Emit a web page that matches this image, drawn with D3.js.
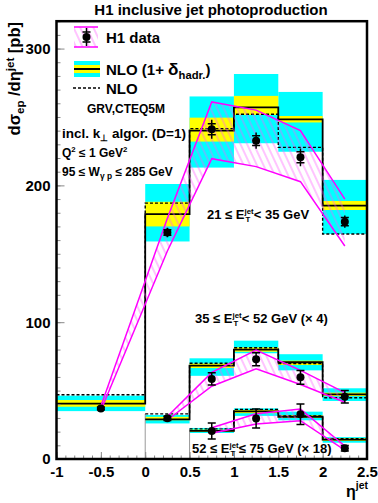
<!DOCTYPE html>
<html><head><meta charset="utf-8">
<script src="https://cdn.jsdelivr.net/npm/d3@7"></script>
<style>
body{margin:0;background:#fff}
text{font-family:"Liberation Sans",Arial,Helvetica,sans-serif;font-weight:bold;fill:#000}
</style>
</head><body>
<svg id="c" width="378" height="503"></svg>
<script>
// ---------- DATA ----------
// 21 <= ET < 35 GeV
const s1Edges   = [-1, 0, 0.5, 1, 1.5, 2, 2.5];
const s1Nlo     = [40.5, 179, 240, 257, 248.3, 185.2];   // NLO (1+delta_hadr)
const s1NloBare = [47, 187, 241.5, 252, 227.8, 164.5];   // NLO
const s1CyanLo  = [35, 159, 213, 230.8, 224.6, 164.5];
const s1CyanHi  = [46.3, 201, 265, 281.4, 268.3, 204];
const s1YelLo   = [38.2, 170, 232, 251.5, 246, 182];
const s1YelHi   = [43.1, 188, 249.5, 265.4, 250.7, 188.6];
const s1Eta     = [-0.5, 0.25, 0.75, 1.25, 1.75, 2.25];
const s1Val     = [37, 165.5, 241, 232.7, 220.5, 173.5];
const s1Stat    = [1, 2, 4, 3.5, 4, 3];
const s1Tot     = [1.5, 3.5, 7, 6, 6.5, 4.5];
const s1BandHi  = [38.5, 176, 261, 255, 240, 190];
const s1BandLo  = [35.5, 152, 219.5, 213.7, 202.7, 155.7];

// 35 <= ET < 52 GeV (x4)
const s2Edges   = [0, 0.5, 1, 1.5, 2, 2.5];
const s2Nlo     = [29, 68.3, 80, 70.7, 47.3];
const s2NloBare = [33, 70, 81.3, 69.7, 44.8];
const s2CyanLo  = [26, 60.8, 77.3, 64.8, 42.4];
const s2CyanHi  = [32.2, 73.6, 86.5, 76.6, 51.7];
const s2YelLo   = [28.3, 66.5, 78.4, 68.7, 46];
const s2YelHi   = [30.8, 69.8, 81.6, 71.9, 48.5];
const s2Eta     = [0.25, 0.75, 1.25, 1.75, 2.25];
const s2Val     = [29.7, 58.5, 72.9, 59.7, 45.5];
const s2Stat    = [1.5, 4.5, 4.8, 5, 4.6];
const s2Tot     = [1.5, 4.5, 4.8, 5, 4.6];
const s2BandHi  = [31, 63.3, 79.7, 64.8, 48.5];
const s2BandLo  = [28.5, 53.2, 66, 54.4, 41.5];

// 52 <= ET <= 75 GeV (x18)
const s3Edges   = [0.5, 1, 1.5, 2, 2.5];
const s3Nlo     = [20.5, 34.8, 30.9, 14.2];
const s3NloBare = [22, 36.3, 31.4, 14.8];
const s3CyanLo  = [19, 31.5, 28.3, 11.9];
const s3CyanHi  = [22.7, 37, 34.6, 16];
const s3YelLo   = [19.8, 33.5, 30, 13.2];
const s3YelHi   = [21.5, 35.8, 32, 15.2];
const s3Eta     = [0.75, 1.25, 1.75, 2.25];
const s3Val     = [20.5, 29.6, 32.7, 7.8];
const s3Stat    = [5.8, 7, 7.5, 2];
const s3Tot     = [5.8, 7, 7.5, 2];
const s3BandHi  = [22.9, 33, 36.5, 9.5];
const s3BandLo  = [18.8, 25.5, 28, 6.5];

const xMajorTicks = [-1, -0.5, 0, 0.5, 1, 1.5, 2, 2.5];
const xTickLabels = ["-1", "-0.5", "0", "0.5", "1", "1.5", "2", "2.5"];
const yMajorTicks = [0, 100, 200, 300];

// ---------- SETUP ----------
const svg = d3.select("#c");
const X0 = 56.5, X1 = 367, Y0 = 459, Y1 = 21.2;
const x = d3.scaleLinear().domain([-1, 2.5]).range([X0, X1]);
const y = d3.scaleLinear().domain([0, 320]).range([Y0, Y1]);

const MAG = "#ff00ff", CYAN = "#00ffff", YEL = "#ffff00";

const defs = svg.append("defs");
const pat = defs.append("pattern").attr("id", "hatch").attr("patternUnits", "userSpaceOnUse")
  .attr("width", 6).attr("height", 10).attr("patternTransform", "rotate(-25)");
pat.append("line").attr("x1", 1).attr("y1", 0).attr("x2", 1).attr("y2", 10)
  .attr("stroke", "#ff55ff").attr("stroke-width", 0.7);
defs.append("clipPath").attr("id", "frameClip").append("rect")
  .attr("x", X0).attr("y", Y1).attr("width", X1 - X0).attr("height", Y0 - Y1);

const plot = svg.append("g").attr("clip-path", "url(#frameClip)");

function drawNLO(edges, nlo, bare, cLo, cHi, yLo, yHi) {
  const bins = nlo.map((v, i) => i);
  plot.append("g").selectAll("rect").data(bins).join("rect")
    .attr("x", i => x(edges[i])).attr("width", i => x(edges[i + 1]) - x(edges[i]))
    .attr("y", i => y(cHi[i])).attr("height", i => y(cLo[i]) - y(cHi[i]))
    .attr("fill", CYAN);
  plot.append("g").selectAll("rect").data(bins).join("rect")
    .attr("x", i => x(edges[i])).attr("width", i => x(edges[i + 1]) - x(edges[i]))
    .attr("y", i => y(yHi[i])).attr("height", i => y(yLo[i]) - y(yHi[i]))
    .attr("fill", YEL);
  if (edges[0] > -1) {
    plot.append("line").attr("x1", x(edges[0])).attr("x2", x(edges[0]))
      .attr("y1", y(0)).attr("y2", y(Math.max(nlo[0], bare[0])))
      .attr("stroke", "#999").attr("stroke-width", 1);
  }
  const step = d3.line().x(d => x(d[0])).y(d => y(d[1])).curve(d3.curveStepAfter);
  const pts = v => v.map((val, i) => [edges[i], val]).concat([[edges[edges.length - 1], v[v.length - 1]]]);
  plot.append("path").attr("d", step(pts(bare))).attr("fill", "none")
    .attr("stroke", "#000").attr("stroke-width", 1.4).attr("stroke-dasharray", "3,2");
  plot.append("path").attr("d", step(pts(nlo))).attr("fill", "none")
    .attr("stroke", "#000").attr("stroke-width", 1.8);
}

function drawBand(eta, hi, lo) {
  const area = d3.area().x((d, i) => x(eta[i])).y0((d, i) => y(lo[i])).y1((d, i) => y(hi[i]));
  plot.append("path").attr("d", area(eta)).attr("fill", "url(#hatch)");
  const ln = d3.line().x((d, i) => x(eta[i]));
  plot.append("path").attr("d", ln.y((d, i) => y(hi[i]))(eta)).attr("fill", "none").attr("stroke", MAG).attr("stroke-width", 1.5);
  plot.append("path").attr("d", ln.y((d, i) => y(lo[i]))(eta)).attr("fill", "none").attr("stroke", MAG).attr("stroke-width", 1.5);
}

function drawPoints(eta, val, stat, tot) {
  const g = plot.append("g");
  eta.forEach((e, i) => {
    const cx = x(e);
    g.append("line").attr("x1", cx).attr("x2", cx).attr("y1", y(val[i] - tot[i])).attr("y2", y(val[i] + tot[i]))
      .attr("stroke", "#000").attr("stroke-width", 1.5);
    [val[i] - stat[i], val[i] + stat[i]].forEach(v => {
      g.append("line").attr("x1", cx - 4).attr("x2", cx + 4).attr("y1", y(v)).attr("y2", y(v))
        .attr("stroke", "#000").attr("stroke-width", 1.5);
    });
    g.append("circle").attr("cx", cx).attr("cy", y(val[i])).attr("r", 4).attr("fill", "#000");
  });
}

drawNLO(s1Edges, s1Nlo, s1NloBare, s1CyanLo, s1CyanHi, s1YelLo, s1YelHi);
drawNLO(s2Edges, s2Nlo, s2NloBare, s2CyanLo, s2CyanHi, s2YelLo, s2YelHi);
drawNLO(s3Edges, s3Nlo, s3NloBare, s3CyanLo, s3CyanHi, s3YelLo, s3YelHi);
drawBand(s1Eta, s1BandHi, s1BandLo);
drawBand(s2Eta, s2BandHi, s2BandLo);
drawBand(s3Eta, s3BandHi, s3BandLo);
drawPoints(s1Eta, s1Val, s1Stat, s1Tot);
drawPoints(s2Eta, s2Val, s2Stat, s2Tot);
drawPoints(s3Eta, s3Val, s3Stat, s3Tot);

// ---------- AXES ----------
const TICK = "#888";
const xMinor = d3.range(-10, 26).map(k => k / 10);
const yMinor = d3.range(0, 321, 10);
const gxm = svg.append("g").attr("transform", `translate(0,${Y0})`)
  .call(d3.axisBottom(x).tickValues(xMinor).tickSize(-3.5).tickFormat(""));
const gx = svg.append("g").attr("transform", `translate(0,${Y0})`)
  .call(d3.axisBottom(x).tickValues(xMajorTicks).tickSize(-7).tickPadding(7)
    .tickFormat((d, i) => xTickLabels[i]));
const gym = svg.append("g").attr("transform", `translate(${X0},0)`)
  .call(d3.axisLeft(y).tickValues(yMinor).tickSize(-4).tickFormat(""));
const gy = svg.append("g").attr("transform", `translate(${X0},0)`)
  .call(d3.axisLeft(y).tickValues(yMajorTicks).tickSize(-8).tickPadding(6));
[gxm, gx, gym, gy].forEach(g => {
  g.select(".domain").remove();
  g.selectAll(".tick line").attr("stroke", TICK);
  g.selectAll("text").attr("font-size", 15).attr("font-family", '"Liberation Sans",Arial,sans-serif')
    .attr("font-weight", "bold").attr("fill", "#000");
});
gx.selectAll("text").attr("dy", "0.75em");

svg.append("rect").attr("x", X0).attr("y", Y1).attr("width", X1 - X0).attr("height", Y0 - Y1)
  .attr("fill", "none").attr("stroke", "#000").attr("stroke-width", 2.5);

// ---------- TEXT ----------
function rich(parent, tx, ty, size, anchor, segs, transform) {
  const t = parent.append("text").attr("x", tx).attr("y", ty).attr("font-size", size).attr("text-anchor", anchor);
  if (transform) t.attr("transform", transform);
  let cur = 0;
  segs.forEach(s => {
    const o = typeof s === "string" ? { t: s } : s;
    const sp = t.append("tspan").text(o.t);
    const sh = o.shift || 0;
    if (sh - cur !== 0) sp.attr("dy", sh - cur);
    cur = sh;
    if (o.scale) sp.attr("font-size", size * o.scale);
    if (o.dx) sp.attr("dx", o.dx);
  });
  return t;
}

rich(svg, 211, 15, 15, "middle", ["H1 inclusive jet photoproduction"]);
rich(svg, 0, 0, 16.5, "end", [
  "d\u03c3", { t: "ep", shift: 4, scale: 0.7 }, { t: " /d\u03b7", shift: 0 },
  { t: "jet", shift: -6.5, scale: 0.7 }, { t: "  [pb]", shift: 0 }
], "translate(20,22) rotate(-90)");
rich(svg, 346, 497, 16, "start", ["\u03b7", { t: "jet", shift: -8, scale: 0.65 }]);

// legend
const lg = svg.append("g");
lg.append("rect").attr("x", 74).attr("y", 27).attr("width", 24).attr("height", 20).attr("fill", "url(#hatch)");
[27, 47].forEach(v => lg.append("line").attr("x1", 74).attr("x2", 98).attr("y1", v).attr("y2", v).attr("stroke", MAG).attr("stroke-width", 1.5));
lg.append("line").attr("x1", 86.5).attr("x2", 86.5).attr("y1", 28).attr("y2", 46).attr("stroke", "#000").attr("stroke-width", 1.5);
[32, 42].forEach(v => lg.append("line").attr("x1", 82.5).attr("x2", 90.5).attr("y1", v).attr("y2", v).attr("stroke", "#000").attr("stroke-width", 1.5));
lg.append("circle").attr("cx", 86.5).attr("cy", 37).attr("r", 4).attr("fill", "#000");
rich(lg, 106, 43, 15, "start", ["H1 data"]);

lg.append("rect").attr("x", 74).attr("y", 61).attr("width", 26).attr("height", 16).attr("fill", CYAN);
lg.append("rect").attr("x", 74).attr("y", 65).attr("width", 26).attr("height", 8).attr("fill", YEL);
lg.append("line").attr("x1", 74).attr("x2", 100).attr("y1", 69).attr("y2", 69).attr("stroke", "#000").attr("stroke-width", 2);
rich(lg, 106, 75, 15, "start", ["NLO (1+ ", { t: "\u03b4", scale: 1.15 }, { t: "hadr.", shift: 4, scale: 0.75 }, { t: ")", shift: 0 }]);
lg.append("line").attr("x1", 73).attr("x2", 100).attr("y1", 88).attr("y2", 88).attr("stroke", "#000").attr("stroke-width", 1.4).attr("stroke-dasharray", "3,2");
rich(lg, 106, 94, 15, "start", ["NLO"]);

rich(svg, 87, 113, 12, "start", ["GRV,CTEQ5M"]);
rich(svg, 62, 138, 13.5, "start", ["incl. k", { t: "\u22a5", shift: 3, scale: 0.7 }, { t: " algor. (D=1)", shift: 0 }]);
rich(svg, 62, 157, 12, "start", ["Q", { t: "2", shift: -5, scale: 0.65 }, { t: " \u2264 1 GeV", shift: 0 }, { t: "2", shift: -5, scale: 0.65 }]);
rich(svg, 62, 176, 12, "start", ["95 \u2264 W", { t: "\u03b3 p", shift: 3, scale: 0.7 }, { t: " \u2264 285 GeV", shift: 0 }]);

function etLabel(tx, ty, pre, post) {
  const sz = 13;
  rich(svg, tx, ty, sz, "start", [pre + " E",
    { t: "jet", shift: -5.5, scale: 0.6 },
    { t: "T", shift: 3, scale: 0.6, dx: -8.2 },
    { t: post, shift: 0, dx: 3.6 }]);
}
etLabel(207, 219, "21 \u2264", "< 35 GeV");
etLabel(195, 323, "35 \u2264", "< 52 GeV (\u00d7 4)");
etLabel(192, 453, "52 \u2264", "\u2264 75 GeV (\u00d7 18)");
</script>
</body></html>
